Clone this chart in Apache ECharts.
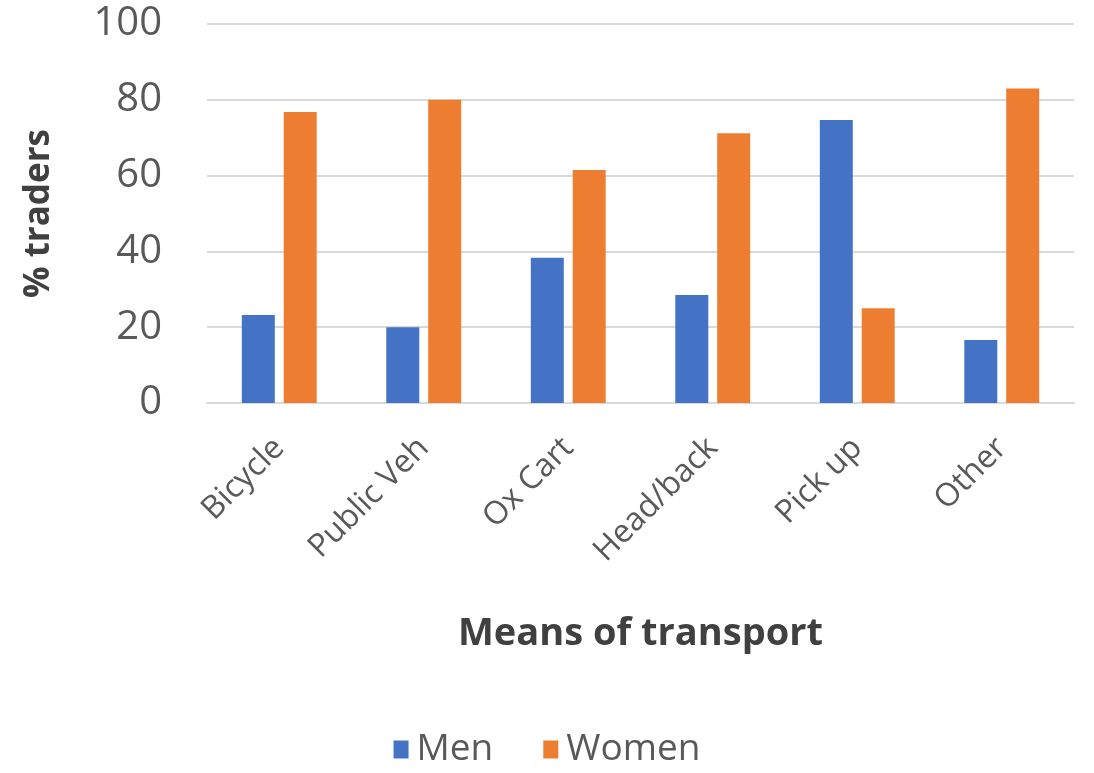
<!DOCTYPE html>
<html>
<head>
<meta charset="utf-8">
<script src="https://cdn.jsdelivr.net/npm/echarts@6/dist/echarts.min.js"></script>
<style>
  html, body { margin: 0; padding: 0; background: #fff; }
  #chart { width: 1094px; height: 773px; }
</style>
</head>
<body>
<div id="chart"></div>
<script>
var categories = ['Bicycle', 'Public Veh', 'Ox Cart', 'Head/back', 'Pick up', 'Other'];
var men = [23.2, 20, 38.3, 28.5, 74.7, 16.6];
var women = [76.8, 80, 61.5, 71.2, 25, 83];
var yTicks = [0, 20, 40, 60, 80, 100];

var chart = echarts.init(document.getElementById('chart'));

var option = {
    animation: false,
    textStyle: { fontFamily: 'Open Sans' },
    legend: {
        data: ['Men', 'Women'],
        bottom: 0,
        left: 'center',
        itemWidth: 15,
        itemHeight: 18,
        itemGap: 50,
        icon: 'rect',
        textStyle: { fontSize: 37, color: '#595959', fontFamily: 'Open Sans', padding: [0, 0, 0, 3] }
    },
    grid: {
        left: 207,
        right: 20,
        top: 24,
        bottom: 370
    },
    xAxis: {
        type: 'category',
        data: categories,
        name: 'Means of transport',
        nameLocation: 'middle',
        nameGap: 212,
        nameTextStyle: { fontSize: 38, fontWeight: 'bold', color: '#404040' },
        axisLine: { lineStyle: { color: '#d9d9d9', width: 2 } },
        axisTick: { show: false },
        axisLabel: {
            rotate: 45,
            fontSize: 32,
            color: '#595959',
            margin: 40
        }
    },
    yAxis: {
        type: 'value',
        min: 0,
        max: 100,
        interval: 20,
        name: '% traders',
        nameLocation: 'middle',
        nameGap: 150,
        nameTextStyle: { fontSize: 35, fontWeight: 'bold', color: '#404040' },
        axisLine: { show: false },
        axisTick: { show: false },
        splitLine: { lineStyle: { color: '#d9d9d9', width: 2 } },
        axisLabel: {
            fontSize: 40,
            color: '#595959',
            margin: 45,
            formatter: function (v) { return yTicks.indexOf(v) >= 0 ? String(v) : ''; }
        }
    },
    series: [
        {
            name: 'Men',
            type: 'bar',
            data: men,
            barWidth: 33,
            barGap: '27%',
            itemStyle: { color: '#4472c4' }
        },
        {
            name: 'Women',
            type: 'bar',
            data: women,
            barWidth: 33,
            itemStyle: { color: '#ed7d31' }
        }
    ]
};

chart.setOption(option);
</script>
</body>
</html>
